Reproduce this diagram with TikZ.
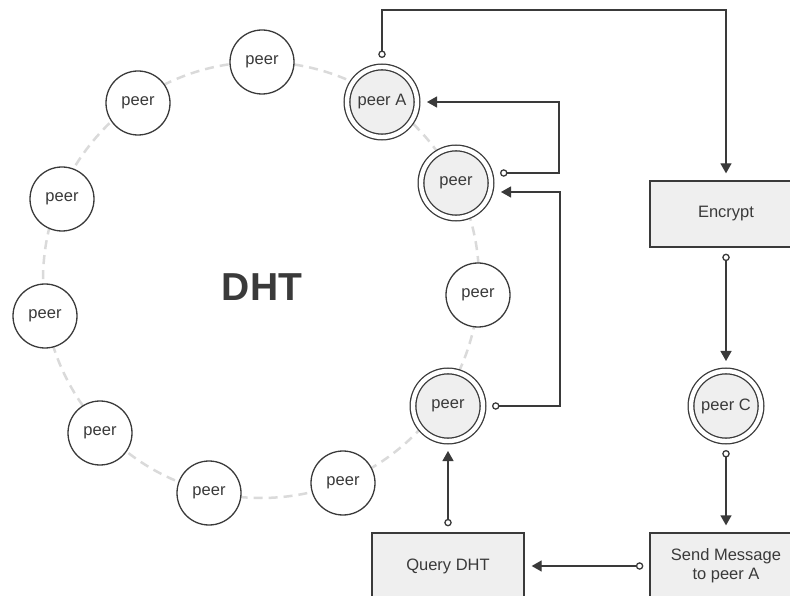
\documentclass[tikz,border=0pt]{standalone}
\usepackage{fontspec}
\setmainfont{Liberation Sans}
\usetikzlibrary{arrows.meta,positioning}
\definecolor{ink}{HTML}{3A3A3A}
\definecolor{shade}{HTML}{EFEFEF}
\definecolor{ringgray}{HTML}{DADADA}

\begin{document}
\begin{tikzpicture}[x=1pt,y=1pt,
    peer/.style={circle,draw=ink,line width=1.3pt,fill=white,minimum size=64pt,
      inner sep=0pt,text=ink,font=\fontsize{16.5}{19}\selectfont},
    hop/.style={peer,fill=shade,minimum size=70pt,double=white,
      double distance=4.4pt,outer sep=3pt},
    stepbox/.style={rectangle,draw=ink,line width=1.3pt,fill=shade,
      minimum width=152pt,minimum height=66pt,align=center,text=ink,
      font=\fontsize{16.5}{19}\selectfont},
    conn/.style={draw=ink,line width=1.3pt,
      {Circle[open,length=7.5pt]}-{Triangle[length=10pt,width=11pt]},
      shorten <=6pt,shorten >=7pt},
    ring/.style={draw=ringgray,line width=2.5pt,dash pattern=on 9pt off 6pt}]
    \useasboundingbox (0,0) rectangle (790,595);
    \clip (0,0) rectangle (790,595);

    % the DHT ring
    \coordinate (dht) at (261,315);
    \draw[ring] (dht) circle (218pt);
    \node[text=ink,font=\fontsize{39}{47}\bfseries\selectfont] (title) at (262,308) {DHT};

    \node[peer]  (p1)    at (262,533) {peer};
    \node[peer]  (p2)    at (138,492) {peer};
    \node[peer]  (p3)    at (62,396)  {peer};
    \node[peer]  (p4)    at (45,279)  {peer};
    \node[peer]  (p5)    at (100,162) {peer};
    \node[peer]  (p6)    at (209,102) {peer};
    \node[peer]  (p7)    at (343,112) {peer};
    \node[peer]  (p8)    at (478,300) {peer};
    \node[hop]   (peerA) at (382,493) {peer A};
    \node[hop]   (hop1)  at (456,412) {peer};
    \node[hop]   (hop2)  at (448,189) {peer};

    % the steps on the right
    \node[stepbox] (enc)   at (726,381) {Encrypt};
    \node[hop]     (peerC) at (726,189) {peer C};
    \node[stepbox] (send)  at (726,29)  {Send Message\\to peer A};
    \node[stepbox] (query) at (448,29)  {Query DHT};

    \draw[conn] (peerA.north) -- ++(0,54) -| (enc.north);
    \draw[conn] (enc) -- (peerC);
    \draw[conn] (peerC) -- (send);
    \draw[conn] (send) -- (query);
    \draw[conn] (query) -- (hop2);
    \draw[conn] (hop2.east) -- ++(74,0) |- ([yshift=-9pt]hop1.east);
    \draw[conn] ([yshift=10pt]hop1.east) -- ++(65,0) |- (peerA.east);
\end{tikzpicture}
\end{document}
